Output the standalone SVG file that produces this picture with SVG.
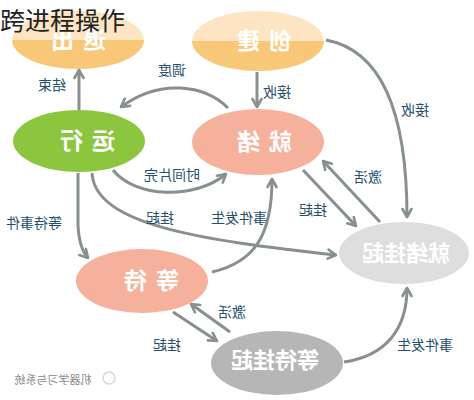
<svg xmlns="http://www.w3.org/2000/svg" width="474" height="400" viewBox="0 0 474 400">
<defs>
<linearGradient id="gOrange" x1="0" y1="0" x2="0" y2="1">
<stop offset="0" stop-color="#fde5c3"/><stop offset="0.5" stop-color="#fde5c3"/>
<stop offset="0.5" stop-color="#f9c778"/><stop offset="1" stop-color="#f9c778"/>
</linearGradient>
<marker id="arr" viewBox="0 0 12 12" refX="10" refY="6" markerWidth="12" markerHeight="12" markerUnits="userSpaceOnUse" orient="auto">
<path d="M2,1.5 L10,6 L2,10.5" fill="none" stroke="#878f8f" stroke-width="2.6" stroke-linecap="round" stroke-linejoin="round"/>
</marker>
<style>
.node{font-family:"Noto Sans CJK SC","Noto Sans",sans-serif;font-weight:bold;fill:#ffffff;text-anchor:middle}
.n2{font-size:23px;letter-spacing:9px}
.n4{font-size:22px}
.lbl{font-family:"Noto Sans CJK SC","Noto Sans",sans-serif;font-size:14px;fill:#24506e;text-anchor:middle}
.conn path{fill:none;stroke:#878f8f;stroke-width:3;marker-end:url(#arr)}
.title{font-family:"Noto Sans CJK SC","Noto Sans",sans-serif;font-size:25px;fill:#222222}
.wm{font-family:"Noto Sans CJK SC","Noto Sans",sans-serif;font-size:11px;fill:#8a8a8a;text-anchor:middle}
</style>
</defs>
<rect width="474" height="400" fill="#ffffff"/>

<g id="node-exit">
<ellipse cx="78" cy="40" rx="66" ry="29" fill="url(#gOrange)"/>
<text class="node n2" x="-74" y="48" transform="scale(-1,1)">退出</text>
</g>
<g id="node-create">
<ellipse cx="258" cy="41" rx="66" ry="30" fill="url(#gOrange)"/>
<text class="node n2" x="-260" y="49" transform="scale(-1,1)">创建</text>
</g>
<g id="node-running">
<ellipse cx="79" cy="141" rx="66" ry="31" fill="#8cc63f"/>
<text class="node n2" x="-83" y="149" transform="scale(-1,1)">运行</text>
</g>
<g id="node-ready">
<ellipse cx="258" cy="142" rx="66" ry="33" fill="#f5b19c"/>
<text class="node n2" x="-260" y="150" transform="scale(-1,1)">就绪</text>
</g>
<g id="node-ready-suspend">
<ellipse cx="404" cy="253" rx="65" ry="31" fill="#dedede"/>
<text class="node n4" x="-406" y="261" transform="scale(-1,1)">就绪挂起</text>
</g>
<g id="node-wait">
<ellipse cx="142" cy="281" rx="66" ry="32" fill="#f5b19c"/>
<text class="node n2" x="-147" y="289" transform="scale(-1,1)">等待</text>
</g>
<g id="node-wait-suspend">
<ellipse cx="277" cy="363" rx="66" ry="32" fill="#b6b6b6"/>
<text class="node n4" x="-275" y="368" transform="scale(-1,1)">等待挂起</text>
</g>

<g id="connectors" class="conn">
<path d="M79 110 L79 70"/>
<path d="M257 72 L257 107"/>
<path d="M228 108 C205 85 160 78 121 107"/>
<path d="M113 170 C135 198 195 200 226 174"/>
<path d="M326 40 C380 50 407 110 407 217"/>
<path d="M303 170 L356 226"/>
<path d="M380 222 L323 161"/>
<path d="M78 173 L78 225 Q79 248 88 258"/>
<path d="M92 173 C95 225 200 240 336 255"/>
<path d="M212 272 C255 262 272 235 272 179"/>
<path d="M230 332 L191 304"/>
<path d="M173 312 L217 341"/>
<path d="M344 362 C385 356 407 330 407 288"/>
</g>

<g id="labels">
<text class="lbl" x="-52" y="90" transform="scale(-1,1)">结束</text>
<text class="lbl" x="-172" y="75" transform="scale(-1,1)">调度</text>
<text class="lbl" x="-277" y="97" transform="scale(-1,1)">接收</text>
<text class="lbl" x="-415" y="115" transform="scale(-1,1)">接收</text>
<text class="lbl" x="-172" y="180" transform="scale(-1,1)">时间片完</text>
<text class="lbl" x="-368" y="182" transform="scale(-1,1)">激活</text>
<text class="lbl" x="-313" y="215" transform="scale(-1,1)">挂起</text>
<text class="lbl" x="-160" y="223" transform="scale(-1,1)">挂起</text>
<text class="lbl" x="-239" y="223" transform="scale(-1,1)">事件发生</text>
<text class="lbl" x="-34" y="228" transform="scale(-1,1)">等待事件</text>
<text class="lbl" x="-232" y="317" transform="scale(-1,1)">激活</text>
<text class="lbl" x="-167" y="350" transform="scale(-1,1)">挂起</text>
<text class="lbl" x="-425" y="350" transform="scale(-1,1)">事件发生</text>
</g>

<g id="watermark">
<circle cx="109" cy="378" r="6" fill="none" stroke="#d8d8d8" stroke-width="1.5"/>
<text class="wm" x="-53" y="384" transform="scale(-1,1)">机器学习与系统</text>
</g>

<text class="title" x="0" y="30">跨进程操作</text>
</svg>
